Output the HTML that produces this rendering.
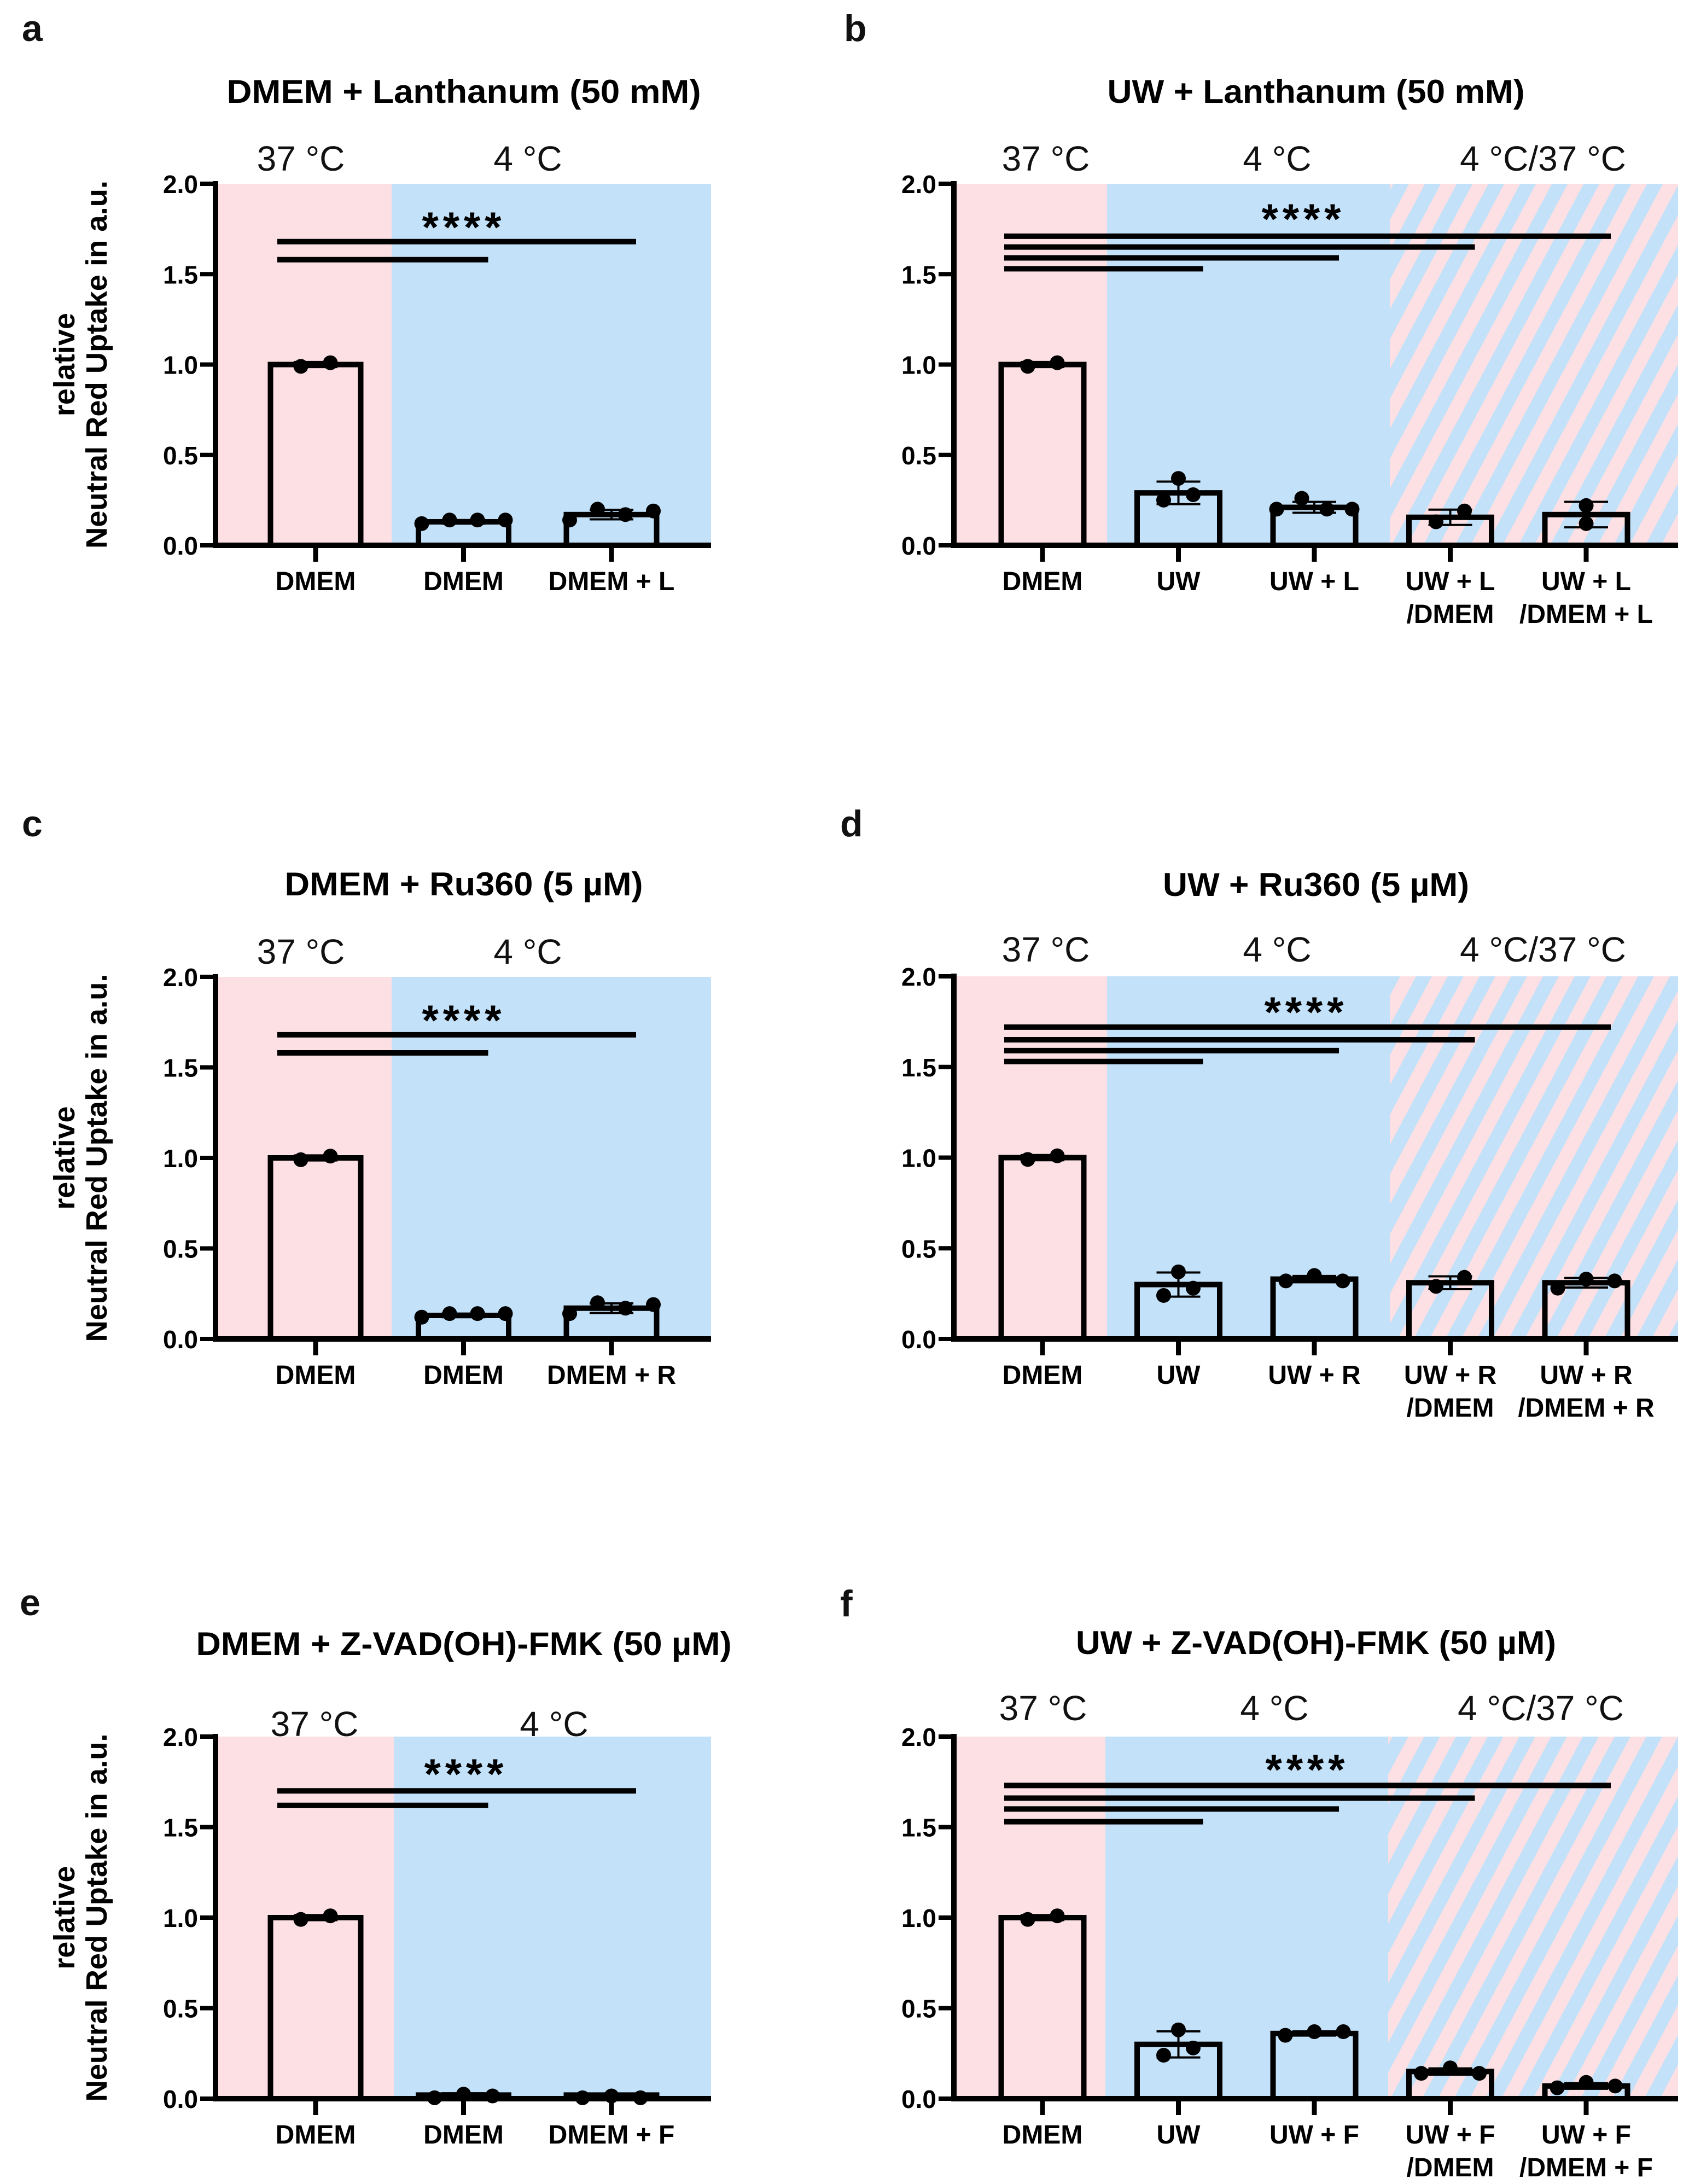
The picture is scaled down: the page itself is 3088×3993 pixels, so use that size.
<!DOCTYPE html>
<html><head><meta charset="utf-8">
<style>
html,body{margin:0;padding:0;background:#fff;}
svg{display:block;}
text{font-family:"Liberation Sans",Arial,sans-serif;}
</style></head>
<body>
<svg id="fig" width="3088" height="3993" viewBox="0 0 3088 3993" xmlns="http://www.w3.org/2000/svg">
<defs>
<pattern id="hatch" patternUnits="userSpaceOnUse" width="58" height="200" patternTransform="skewX(-28)">
<rect x="0" y="0" width="58" height="200" fill="#fde0e3"/>
<rect x="0" y="0" width="29" height="200" fill="#c3e1f8"/>
</pattern>
</defs>
</svg>
<script>
// ---- data ----
const aCategories=[["DMEM"],["DMEM"],["DMEM + L"]];
const aMeans=[1.0,0.13,0.17];
const aPoints=[[0.99,1.01],[0.12,0.14,0.14,0.14],[0.14,0.20,0.17,0.19]];
const aSigLevels=[1.68,1.58];
const aSigTargets=[2,1];

const bCategories=[["DMEM"],["UW"],["UW + L"],["UW + L","/DMEM"],["UW + L","/DMEM + L"]];
const bMeans=[1.0,0.29,0.21,0.155,0.17];
const bPoints=[[0.99,1.01],[0.25,0.37,0.28],[0.20,0.26,0.20,0.20],[0.13,0.19],[0.12,0.22]];
const bSigLevels=[1.71,1.65,1.59,1.53];
const bSigTargets=[4,3,2,1];

const cCategories=[["DMEM"],["DMEM"],["DMEM + R"]];
const cMeans=[1.0,0.13,0.17];
const cPoints=[[0.99,1.01],[0.12,0.14,0.14,0.14],[0.14,0.20,0.17,0.19]];
const cSigLevels=[1.68,1.58];
const cSigTargets=[2,1];

const dCategories=[["DMEM"],["UW"],["UW + R"],["UW + R","/DMEM"],["UW + R","/DMEM + R"]];
const dMeans=[1.0,0.30,0.33,0.31,0.31];
const dPoints=[[0.99,1.01],[0.24,0.37,0.28],[0.32,0.35,0.32],[0.29,0.34],[0.28,0.33,0.32]];
const dSigLevels=[1.72,1.65,1.59,1.53];
const dSigTargets=[4,3,2,1];

const eCategories=[["DMEM"],["DMEM"],["DMEM + F"]];
const eMeans=[1.0,0.02,0.02];
const ePoints=[[0.99,1.01],[0.005,0.025,0.015],[0.005,0.015,0.005]];
const eSigLevels=[1.70,1.62];
const eSigTargets=[2,1];

const fCategories=[["DMEM"],["UW"],["UW + F"],["UW + F","/DMEM"],["UW + F","/DMEM + F"]];
const fMeans=[1.0,0.30,0.36,0.15,0.07];
const fPoints=[[0.99,1.01],[0.24,0.38,0.28],[0.35,0.37,0.37],[0.14,0.17,0.14],[0.06,0.09,0.07]];
const fSigLevels=[1.73,1.66,1.60,1.53];
const fSigTargets=[4,3,2,1];

const yTicks=[0,0.5,1.0,1.5,2.0];
const yTickLabels=["0.0","0.5","1.0","1.5","2.0"];

// ---- layout ----
const NS="http://www.w3.org/2000/svg";
const svg=document.getElementById('fig');
function mk(tag,attrs,parent,txt){const e=document.createElementNS(NS,tag);for(const k in attrs)e.setAttribute(k,attrs[k]);if(txt!==undefined)e.textContent=txt;(parent||svg).appendChild(e);return e;}

const panels=[
 {id:'a',letter:'a',lx:40,ly:75,title:'DMEM + Lanthanum (50 mM)',tx:848,ty:188,tw:867,
  temps:[['37 °C',550],['4 °C',965]],tempY:312,cats:aCategories,means:aMeans,pts:aPoints,sig:aSigLevels,sigT:aSigTargets,
  ax:394,right:1300,y2:336,y0:997,c0:577,step:270.5,bw:175,regions:[716],stars:[844,400],left:true,spread:[54,51,51]},
 {id:'b',letter:'b',lx:1543,ly:75,title:'UW + Lanthanum (50 mM)',tx:2406,ty:188,tw:763,
  temps:[['37 °C',1912],['4 °C',2335],['4 °C/37 °C',2821]],tempY:312,cats:bCategories,means:bMeans,pts:bPoints,sig:bSigLevels,sigT:bSigTargets,
  ax:1744,right:3068,y2:336,y0:997,c0:1906,step:248.5,bw:161,regions:[2024,2541],stars:[2379,385],left:false,spread:[54,27,46,52,0]},
 {id:'c',letter:'c',lx:40,ly:1529,title:'DMEM + Ru360 (5 µM)',tx:848,ty:1637,tw:655,
  temps:[['37 °C',550],['4 °C',965]],tempY:1762,cats:cCategories,means:cMeans,pts:cPoints,sig:cSigLevels,sigT:cSigTargets,
  ax:394,right:1300,y2:1786,y0:2448,c0:577,step:270.5,bw:175,regions:[716],stars:[844,1850],left:true,spread:[54,51,51]},
 {id:'d',letter:'d',lx:1536,ly:1529,title:'UW + Ru360 (5 µM)',tx:2406,ty:1638,tw:560,
  temps:[['37 °C',1912],['4 °C',2335],['4 °C/37 °C',2821]],tempY:1758,cats:dCategories,means:dMeans,pts:dPoints,sig:dSigLevels,sigT:dSigTargets,
  ax:1744,right:3068,y2:1785,y0:2448,c0:1906,step:248.5,bw:161,regions:[2024,2541],stars:[2384,1835],left:false,spread:[54,27,52,52,52]},
 {id:'e',letter:'e',lx:36,ly:2953,title:'DMEM + Z-VAD(OH)-FMK (50 µM)',tx:848,ty:3026,tw:979,
  temps:[['37 °C',575],['4 °C',1013]],tempY:3174,cats:eCategories,means:eMeans,pts:ePoints,sig:eSigLevels,sigT:eSigTargets,
  ax:394,right:1300,y2:3175,y0:3837,c0:577,step:270.5,bw:175,regions:[720],stars:[848,3228],left:true,spread:[54,53,53]},
 {id:'f',letter:'f',lx:1536,ly:2955,title:'UW + Z-VAD(OH)-FMK (50 µM)',tx:2406,ty:3024,tw:878,
  temps:[['37 °C',1907],['4 °C',2330],['4 °C/37 °C',2817]],tempY:3145,cats:fCategories,means:fMeans,pts:fPoints,sig:fSigLevels,sigT:fSigTargets,
  ax:1744,right:3068,y2:3175,y0:3837,c0:1906,step:248.5,bw:161,regions:[2021,2538],stars:[2386,3220],left:false,spread:[54,27,53,53,53]}
];

function mean(a){return a.reduce((s,v)=>s+v,0)/a.length;}
function sd(a){const m=mean(a);return Math.sqrt(a.reduce((s,v)=>s+(v-m)*(v-m),0)/Math.max(1,a.length-1));}

panels.forEach(p=>{
  const g=mk('g',{});
  
  
  const yS=v=>p.y0-(p.y0-p.y2)*v/2;
  const xS=i=>p.c0+p.step*i;

  const colors=['#fde0e3','#c3e1f8','url(#hatch)'];
  const names=['region-37c','region-4c','region-4c-37c'];
  let x0=p.ax;
  const bounds=p.regions.concat([p.right]);
  bounds.forEach((xb,i)=>{
    const r=mk('rect',{x:x0,y:p.y2,width:xb-x0,height:p.y0-p.y2,fill:colors[i]},g);
    
    
    x0=xb;
  });

  const L=mk('text',{x:p.lx,y:p.ly,'font-size':68,'font-weight':'bold',fill:'#111'},g,p.letter);
  
  
  const T=mk('text',{x:p.tx,y:p.ty,'font-size':60,'font-weight':'bold','text-anchor':'middle',textLength:p.tw,lengthAdjust:'spacingAndGlyphs',fill:'#000'},g,p.title);
  
  
  p.temps.forEach(t=>{
    const e=mk('text',{x:t[1],y:p.tempY,'font-size':64,'text-anchor':'middle',fill:'#111'},g,t[0]);
    
    
  });

  if(p.left){
    const mid=(p.y0+p.y2)/2;
    const t1=mk('text',{x:136,y:mid,'font-size':54,'font-weight':'bold','text-anchor':'middle',transform:`rotate(-90 136 ${mid})`},g,'relative');
    
    
    const t2=mk('text',{x:195,y:mid,'font-size':54,'font-weight':'bold','text-anchor':'middle',textLength:673,lengthAdjust:'spacingAndGlyphs',transform:`rotate(-90 195 ${mid})`},g,'Neutral Red Uptake in a.u.');
    
    
  }

  p.means.forEach((m,i)=>{
    const cx=xS(i),yt=yS(m);
    const b=mk('rect',{x:cx-p.bw/2+5,y:yt,width:p.bw-10,height:p.y0-yt,fill:'none',stroke:'#000','stroke-width':10},g);
    
    
  });

  p.pts.forEach((arr,i)=>{
    const cx=xS(i),m=p.means[i],s=sd(arr);
    const hi=yS(m+s),lo=yS(m-s);
    const eb=mk('path',{d:`M${cx},${hi}V${lo}M${cx-40},${hi}H${cx+40}M${cx-40},${lo}H${cx+40}`,stroke:'#000','stroke-width':4,fill:'none'},g);
    
    
    const n=arr.length;
    arr.forEach((v,j)=>{
      const dx=(j-(n-1)/2)*p.spread[i];
      const c=mk('circle',{cx:cx+dx,cy:yS(v),r:13.5,fill:'#000'},g);
      
      
    });
  });

  const ya=mk('line',{x1:p.ax,y1:p.y2-5,x2:p.ax,y2:p.y0+5,stroke:'#000','stroke-width':10},g);
  
  
  const xa=mk('line',{x1:p.ax-5,y1:p.y0,x2:p.right,y2:p.y0,stroke:'#000','stroke-width':10},g);
  
  
  yTicks.forEach((v,i)=>{
    const y=yS(v);
    const tk=mk('line',{x1:p.ax-28,y1:y,x2:p.ax,y2:y,stroke:'#000','stroke-width':8},g);
    
    
    const tl=mk('text',{x:p.ax-32,y:y+17,'font-size':46,'font-weight':'bold','text-anchor':'end'},g,yTickLabels[i]);
    
    
  });
  p.cats.forEach((lines,i)=>{
    const cx=xS(i);
    const tk=mk('line',{x1:cx,y1:p.y0,x2:cx,y2:p.y0+30,stroke:'#000','stroke-width':9},g);
    
    
    lines.forEach((ln,k)=>{
      const tl=mk('text',{x:cx,y:p.y0+82+60*k,'font-size':48,'font-weight':'bold','text-anchor':'middle'},g,ln);
      
      
    });
  });

  p.sig.forEach((lv,k)=>{
    const y=yS(lv);
    const x1=xS(0)-70,x2=xS(p.sigT[k])+45;
    const sl=mk('line',{x1:x1,y1:y,x2:x2,y2:y,stroke:'#000','stroke-width':10},g);
    
    
  });
  const st=mk('text',{x:p.stars[0],y:p.stars[1]+42,'font-size':78,'font-weight':'bold','text-anchor':'middle',textLength:145,lengthAdjust:'spacing'},g,'****');
  
  
});
</script>
</body></html>
